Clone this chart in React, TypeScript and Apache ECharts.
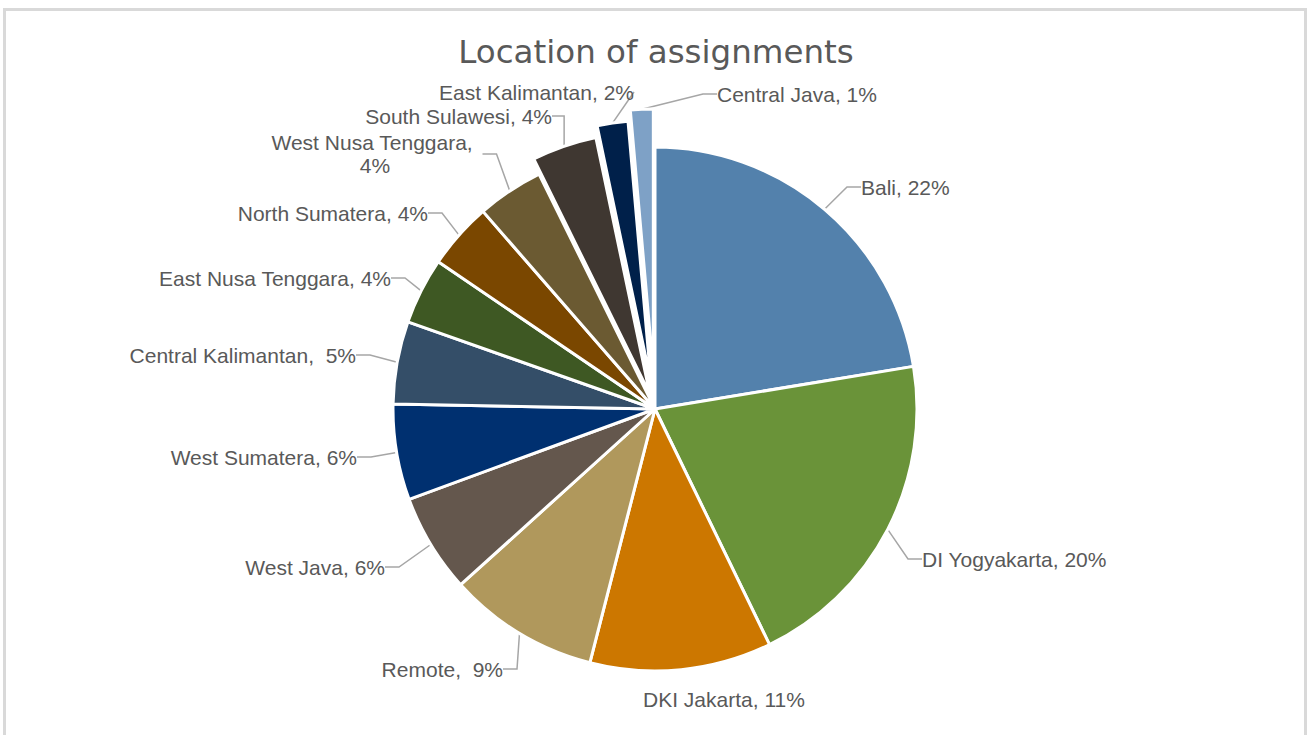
import React, { useEffect, useRef } from "react";
import * as echarts from "echarts";

const chartTitle = "Location of assignments";
const categories = [
  "Bali",
  "DI Yogyakarta",
  "DKI Jakarta",
  "Remote",
  "West Java",
  "West Sumatera",
  "Central Kalimantan",
  "East Nusa Tenggara",
  "North Sumatera",
  "West Nusa Tenggara",
  "South Sulawesi",
  "East Kalimantan",
  "Central Java",
];
// shares (%)
const shares = [22.4, 20.4, 11.2, 9.3, 6.1, 5.9, 5.1, 4.1, 4.1, 4.1, 4.0, 1.9, 1.4];
const sliceColors = [
  "#5381AC",
  "#6A9339",
  "#CC7700",
  "#B0985C",
  "#64574D",
  "#003070",
  "#344E68",
  "#3E5823",
  "#7A4700",
  "#6B5A32",
  "#3F3731",
  "#00204A",
  "#7EA1C6",
];
// exploded slices and their offsets (style)
const explodedSlices = [
  { name: "South Sulawesi", offset: 16 },
  { name: "East Kalimantan", offset: 27 },
  { name: "Central Java", offset: 38 },
];
// label placement (style): [x, y, align]
const labelPos: Record<string, [number, number, string]> = {
  Bali: [861, 187, "left"],
  "DI Yogyakarta": [922, 559, "left"],
  "DKI Jakarta": [643, 699, "left"],
  Remote: [503, 669, "right"],
  "West Java": [385, 567, "right"],
  "West Sumatera": [357, 457, "right"],
  "Central Kalimantan": [356, 355, "right"],
  "East Nusa Tenggara": [391, 278, "right"],
  "North Sumatera": [428, 213, "right"],
  "West Nusa Tenggara": [375, 154, "center"],
  "South Sulawesi": [552, 116, "right"],
  "East Kalimantan": [634, 92, "right"],
  "Central Java": [717, 94, "left"],
};
const wideSeparator = new Set(["Remote", "Central Kalimantan"]);
const wrapWidth: Record<string, number> = { "West Nusa Tenggara": 215 };
const noLeader = new Set(["DKI Jakarta"]);

const total = shares.reduce((a, b) => a + b, 0);
const CENTER = [655, 409];
const RADIUS = 262;
const FONT = "'Liberation Sans', Arial, sans-serif";

function labelText(name: string, value: number) {
  const pct = Math.round((value / total) * 100);
  return `${name},${wideSeparator.has(name) ? "  " : " "}${pct}%`;
}

function midAngleOf(index: number) {
  let before = 0;
  for (let i = 0; i < index; i++) before += shares[i];
  const frac = (before + shares[index] / 2) / total;
  return frac * Math.PI * 2;
}

function makeSeries(visible: (name: string) => boolean, center: number[]) {
  return {
    type: "pie",
    center,
    radius: RADIUS,
    startAngle: 90,
    clockwise: true,
    avoidLabelOverlap: false,
    selectedMode: false,
    silent: true,
    emphasis: { disabled: true },
    labelLayout: (params: any) => {
      const name = categories[params.dataIndex];
      const p = labelPos[name];
      if (!p) return {};
      return { x: p[0], y: p[1], align: p[2], verticalAlign: "middle" };
    },
    data: categories.map((name, i) => {
      const show = visible(name);
      const style = show
        ? { color: sliceColors[i], borderColor: "#ffffff", borderWidth: 3 }
        : { color: "rgba(0,0,0,0)", borderColor: "rgba(0,0,0,0)", borderWidth: 0 };
      return {
        name,
        value: shares[i],
        itemStyle: style,
        label: {
          show,
          position: "outside",
          formatter: (p: any) => labelText(p.name, p.value),
          fontFamily: FONT,
          fontSize: 21,
          color: "#595959",
          lineHeight: 23,
          ...(wrapWidth[name]
            ? { width: wrapWidth[name], overflow: "break", align: "center" }
            : {}),
        },
        labelLine: {
          show: show && !noLeader.has(name),
          length: 12,
          length2: 14,
          lineStyle: { color: "#A6A6A6", width: 1.5 },
        },
      };
    }),
  };
}

export default function App() {
  const ref = useRef<HTMLDivElement>(null);
  useEffect(() => {
    if (!ref.current) return;
    const chart = echarts.init(ref.current, null, { renderer: "svg" });
    const explodedNames = new Set(explodedSlices.map((e) => e.name));
    const series: any[] = [makeSeries((n) => !explodedNames.has(n), CENTER)];
    explodedSlices.forEach((e) => {
      const idx = categories.indexOf(e.name);
      const a = midAngleOf(idx);
      const c = [CENTER[0] + Math.sin(a) * e.offset, CENTER[1] - Math.cos(a) * e.offset];
      series.push(makeSeries((n) => n === e.name, c));
    });
    chart.setOption({
      animation: false,
      backgroundColor: "#ffffff",
      graphic: [
        {
          type: "rect",
          shape: { x: 4.5, y: 9.5, width: 1301, height: 740 },
          style: { fill: "none", stroke: "#D9D9D9", lineWidth: 3 },
          silent: true,
        },
        {
          type: "text",
          x: 656,
          y: 52,
          style: {
            text: chartTitle,
            fill: "#595959",
            fontSize: 32.5,
            fontFamily: "'DejaVu Sans', sans-serif",
            textAlign: "center",
            textVerticalAlign: "middle",
          },
        },
      ],
      series,
    });
    return () => chart.dispose();
  }, []);
  return (
    <div
      ref={ref}
      style={{ position: "absolute", left: 0, top: 0, width: 1307, height: 735 }}
    />
  );
}
